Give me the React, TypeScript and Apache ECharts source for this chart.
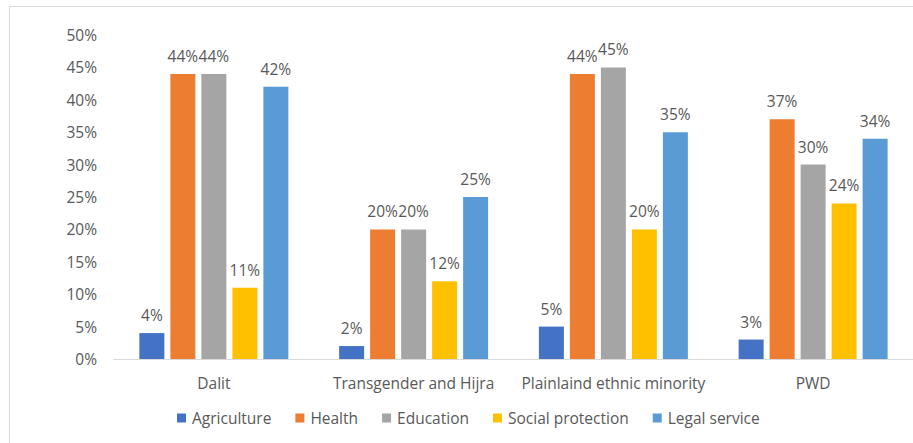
import React, { useEffect, useRef } from "react";
import * as echarts from "echarts";

const categories = ["Dalit", "Transgender and Hijra", "Plainlaind ethnic minority", "PWD"];
const seriesNames = ["Agriculture", "Health", "Education", "Social protection", "Legal service"];
const agriculture = [4, 2, 5, 3];
const health = [44, 20, 44, 37];
const education = [44, 20, 45, 30];
const socialProtection = [11, 12, 20, 24];
const legalService = [42, 25, 35, 34];
const colors = ["#4472C4", "#ED7D31", "#A5A5A5", "#FFC000", "#5B9BD5"];

const FONT = "Open Sans";
const FS = 15.5;

export default function App() {
  const ref = useRef<HTMLDivElement>(null);
  useEffect(() => {
    if (!ref.current) return;
    const chart = echarts.init(ref.current, undefined, { renderer: "svg" });
    const data = [agriculture, health, education, socialProtection, legalService];
    chart.setOption({
      animation: false,
      backgroundColor: "#ffffff",
      textStyle: { fontFamily: FONT },
      graphic: [
        {
          type: "rect",
          shape: { x: 9.5, y: 6.5, width: 1200, height: 1200 },
          style: { fill: "none", stroke: "#d9d9d9", lineWidth: 1 },
          silent: true,
        },
      ],
      grid: { left: 114, right: -11, top: 35, bottom: 84, containLabel: false },
      legend: {
        data: seriesNames,
        top: 405,
        left: 172,
        itemWidth: 9,
        itemHeight: 9,
        itemGap: 24,
        icon: "rect",
        textStyle: { color: "#595959", fontSize: FS, fontFamily: FONT, padding: [0, 0, 0, 1] },
      },
      xAxis: {
        type: "category",
        data: categories,
        axisTick: { show: false },
        axisLine: { lineStyle: { color: "#d9d9d9", width: 1 } },
        axisLabel: { color: "#595959", fontSize: FS, margin: 16, interval: 0, fontFamily: FONT },
      },
      yAxis: {
        type: "value",
        min: 0,
        max: 50,
        interval: 5,
        axisLine: { show: false },
        axisTick: { show: false },
        splitLine: { show: false },
        axisLabel: { formatter: "{value}%", color: "#595959", fontSize: FS, margin: 17, fontFamily: FONT },
      },
      series: seriesNames.map((name, i) => ({
        name,
        type: "bar",
        data: data[i],
        barWidth: 25,
        barGap: "24%",
        itemStyle: { color: colors[i] },
        label: {
          show: true,
          position: "top",
          distance: 10,
          formatter: "{c}%",
          color: "#595959",
          fontSize: FS,
          fontFamily: FONT,
        },
      })),
    });
    return () => chart.dispose();
  }, []);
  return <div ref={ref} style={{ width: 913, height: 443, position: "absolute", left: 0, top: 0 }} />;
}
